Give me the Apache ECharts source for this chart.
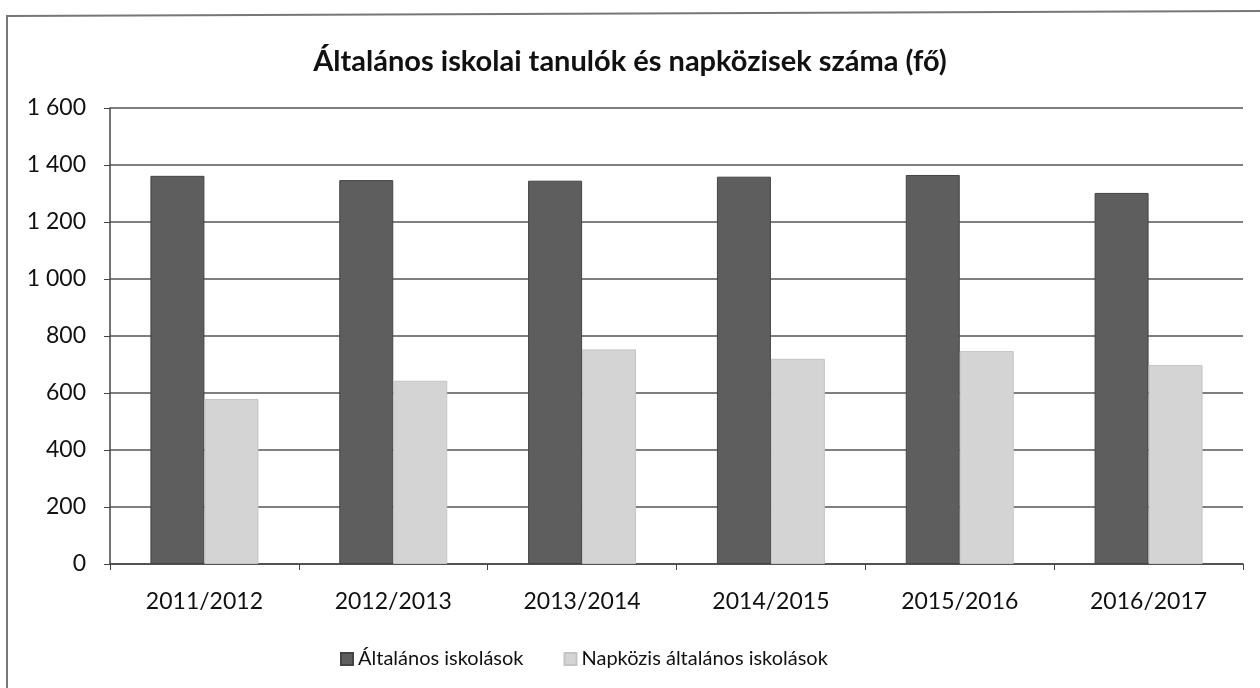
<!DOCTYPE html>
<html>
<head>
<meta charset="utf-8">
<script src="https://cdn.jsdelivr.net/npm/echarts@6/dist/echarts.min.js"></script>
<style>
  html, body { margin: 0; padding: 0; background: #fff; }
  #main { width: 1260px; height: 688px; }
</style>
</head>
<body>
<div id="main"></div>
<script>
// adatok
var categories = ['2011/2012', '2012/2013', '2013/2014', '2014/2015', '2015/2016', '2016/2017'];
var altalanos = [1362, 1347, 1345, 1359, 1365, 1302];
var napkozis = [579, 643, 753, 720, 747, 698];
var seriesNames = ['Általános iskolások', 'Napközis általános iskolások'];

var font = 'Lato, "Open Sans", sans-serif';

var chart = echarts.init(document.getElementById('main'));

chart.setOption({
    animation: false,
    backgroundColor: '#fff',
    title: {
        text: 'Általános iskolai tanulók és napközisek száma (fő)',
        left: 'center',
        top: 42,
        textStyle: { fontFamily: font, fontSize: 29, fontWeight: 'bold', color: '#111' }
    },
    // keret bal és felső oldala
    graphic: [{
        type: 'polyline',
        shape: { points: [[7, 688], [7, 16], [1260, 11]] },
        style: { stroke: '#777', lineWidth: 2, fill: null }
    }],
    legend: {
        bottom: 14,
        left: 335,
        itemWidth: 12,
        itemHeight: 12,
        itemGap: 40,
        icon: 'rect',
        textStyle: { fontFamily: font, fontSize: 20, color: '#111' },
        data: seriesNames
    },
    grid: { left: 110, right: 17, top: 108, bottom: 124 },
    xAxis: {
        type: 'category',
        data: categories,
        axisLine: { lineStyle: { color: '#444', width: 1.5 } },
        axisTick: { show: true, length: 6, lineStyle: { color: '#444' } },
        axisLabel: { fontFamily: font, fontSize: 23, color: '#111', margin: 26 }
    },
    yAxis: {
        type: 'value',
        min: 0,
        max: 1600,
        interval: 200,
        axisLine: { show: true, lineStyle: { color: '#444', width: 1.5 } },
        axisTick: { show: true, length: 6, lineStyle: { color: '#444' } },
        splitLine: { lineStyle: { color: '#555', width: 1.5 } },
        axisLabel: {
            fontFamily: font, fontSize: 23, color: '#111', margin: 24,
            formatter: function (v) {
                return String(v).replace(/\B(?=(\d{3})+(?!\d))/g, ' ');
            }
        }
    },
    series: [
        {
            name: seriesNames[0],
            type: 'bar',
            data: altalanos,
            barWidth: 54,
            barGap: '0%',
            itemStyle: { color: '#5e5e5e', borderColor: '#444', borderWidth: 1 }
        },
        {
            name: seriesNames[1],
            type: 'bar',
            data: napkozis,
            barWidth: 54,
            barGap: '0%',
            itemStyle: { color: '#d4d4d4', borderColor: '#c4c4c4', borderWidth: 1 }
        }
    ]
});
</script>
</body>
</html>
